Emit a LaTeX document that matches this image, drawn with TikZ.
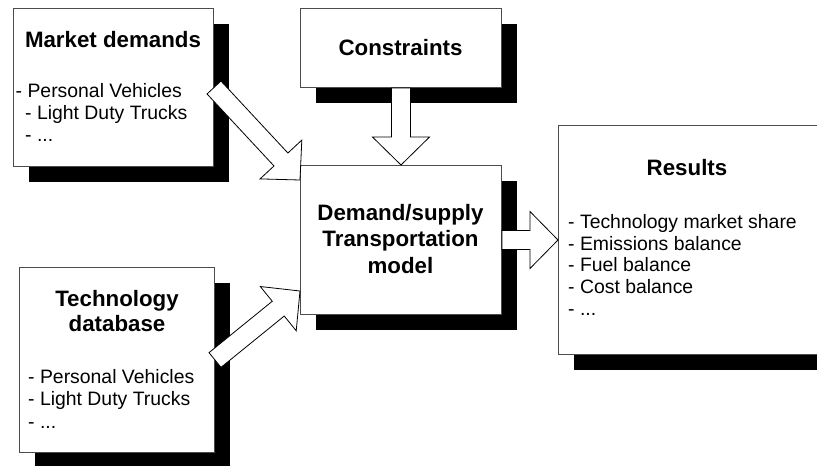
\documentclass[tikz,border=0pt]{standalone}
\usepackage{fontspec}
\setmainfont{Liberation Sans}
\usetikzlibrary{calc,shadows}
\newcommand\blkarrow[3]{%
  \coordinate (#1t) at #2;
  \coordinate (#1p) at #3;
  \coordinate (#1n) at ($(#1p)!28pt!(#1t)$);
  \draw[barrow] ($(#1t)!9.5pt!90:(#1p)$) -- ($(#1n)!9.5pt!90:(#1p)$) -- ($(#1n)!28.5pt!90:(#1p)$) -- (#1p)
    -- ($(#1n)!28.5pt!-90:(#1p)$) -- ($(#1n)!9.5pt!-90:(#1p)$) -- ($(#1t)!9.5pt!-90:(#1p)$) -- cycle;}
\begin{document}
\begin{tikzpicture}[x=1pt,y=-1pt,
  box/.style={draw=black!70,line width=1pt,fill=white,inner sep=0,anchor=north west,
     general shadow={fill=black,shadow xshift=15pt,shadow yshift=-15pt}},
  ttl/.style={font=\fontsize{22.3}{27}\selectfont\bfseries,inner sep=0,anchor=base},
  itm/.style={font=\fontsize{19.4}{22.5}\selectfont,inner sep=0,anchor=base west},
  barrow/.style={draw=black,line width=0.8pt,fill=white,line join=miter}]
\useasboundingbox (0,0) rectangle (817,466);
\clip (0,0) rectangle (817,466);
\fill[white] (0,0) rectangle (817,466);
% boxes
\node[box,minimum width=200pt,minimum height=158pt] (market) at (13,8) {};
\node[box,minimum width=201pt,minimum height=79pt] (cons) at (300,8) {};
\node[box,minimum width=201pt,minimum height=149pt] (model) at (300,165) {};
\node[box,minimum width=195pt,minimum height=185pt] (tech) at (19,267) {};
\node[box,minimum width=282pt,minimum height=229pt] (results) at (558,125) {};
% arrows
\blkarrow{a}{(market.east)}{($(model.north west)+(0,15)$)}
\blkarrow{b}{(cons.south)}{(model.north)}
\blkarrow{c}{(tech.east)}{($(model.south west)+(0,-24)$)}
\blkarrow{d}{(model.east)}{(results.west |- model.east)}
% texts
\node[ttl] (mt) at (113,47) {Market demands};
\node[itm] (m1) at (15.5,97) {- Personal Vehicles};
\node[itm] (m2) at (25,119) {- Light Duty Trucks};
\node[itm] (m3) at (25,141.5) {- ...};
\node[ttl] (ct) at (400.5,55) {Constraints};
\node[ttl] (d1) at (400.5,220) {Demand/supply};
\node[ttl] (d2) at (400.5,246.7) {Transportation};
\node[ttl] (d3) at (400.5,273.3) {model};
\node[ttl] (t1) at (117,306) {Technology};
\node[ttl] (t2) at (117,331) {database};
\node[itm] (ti1) at (28,383.3) {- Personal Vehicles};
\node[itm] (ti2) at (28,405.7) {- Light Duty Trucks};
\node[itm] (ti3) at (28,428) {- ...};
\node[ttl] (rt) at (687,175) {Results};
\node[itm] (r1) at (568,228.3) {- Technology market share};
\node[itm] (r2) at (568,250) {- Emissions balance};
\node[itm] (r3) at (568,271.7) {- Fuel balance};
\node[itm] (r4) at (568,293.3) {- Cost balance};
\node[itm] (r5) at (568,315) {- ...};
\end{tikzpicture}
\end{document}
